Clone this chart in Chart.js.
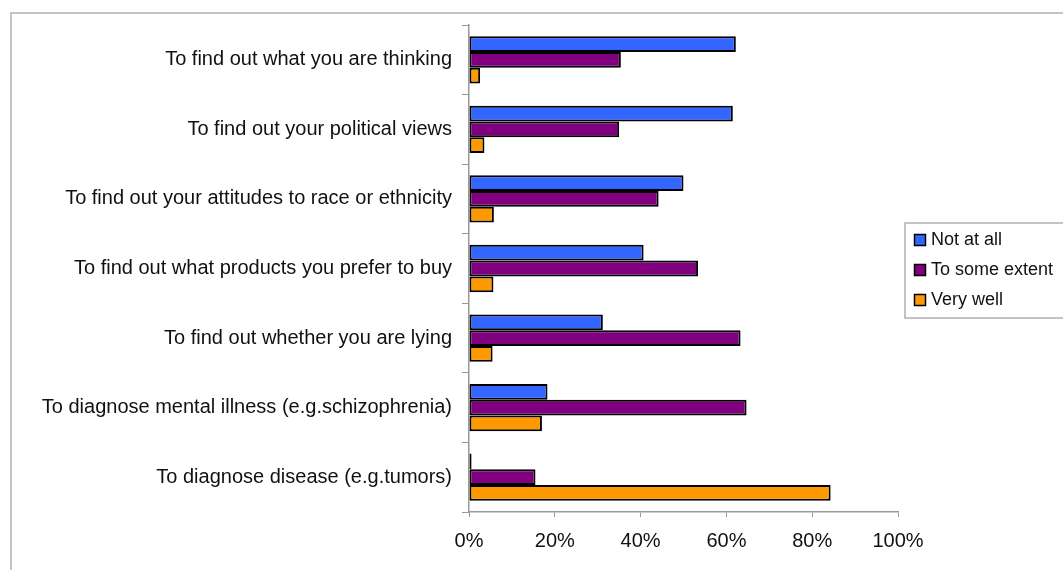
<!DOCTYPE html>
<html>
<head>
<meta charset="utf-8">
<script src="https://cdn.jsdelivr.net/npm/chart.js@4"></script>
<style>
  html, body { margin: 0; padding: 0; background: #fff; overflow: hidden; }
  #wrap { position: relative; width: 1063px; height: 570px; }
  #frame { position: absolute; left: 10px; top: 12px; width: 1100px; height: 600px;
           border-left: 2px solid #c4c4c4; border-top: 2px solid #c4c4c4; pointer-events: none; }
  canvas { position: absolute; left: 0; top: 0; }
</style>
</head>
<body>
<div id="wrap">
  <canvas id="chart" width="1063" height="570"></canvas>
  <div id="frame"></div>
</div>
<script>
const categories = [
  'To find out what you are thinking',
  'To find out your political views',
  'To find out your attitudes to race or ethnicity',
  'To find out what products you prefer to buy',
  'To find out whether you are lying',
  'To diagnose mental illness (e.g.schizophrenia)',
  'To diagnose disease (e.g.tumors)'
];
const notAtAll = [62.2, 61.5, 50.0, 40.7, 31.2, 18.3, 0.6];
const toSomeExtent = [35.4, 35.0, 44.2, 53.4, 63.3, 64.7, 15.5];
const veryWell = [2.6, 3.6, 5.8, 5.7, 5.5, 17.0, 84.3];
const seriesNames = ['Not at all', 'To some extent', 'Very well'];
const seriesColors = ['#3366FF', '#800080', '#FF9900'];
const xTicks = [0, 20, 40, 60, 80, 100];

const font = "'Liberation Sans', Arial, sans-serif";

// legend box like the old office chart, drawn from the datasets
const boxLegend = {
  id: 'boxLegend',
  afterDraw(chart) {
    const ctx = chart.ctx;
    const x = 905, y = 223, w = 170, h = 95;
    ctx.save();
    ctx.strokeStyle = '#b0b0b0';
    ctx.lineWidth = 1.5;
    ctx.strokeRect(x, y, w, h);
    ctx.font = '18px ' + font;
    ctx.textBaseline = 'middle';
    chart.data.datasets.forEach((ds, i) => {
      const cy = 240 + i * 30;
      ctx.fillStyle = ds.backgroundColor;
      ctx.fillRect(914, cy - 6, 12, 12);
      ctx.strokeStyle = '#000';
      ctx.lineWidth = 1.5;
      ctx.strokeRect(914.5, cy - 5.5, 11, 11);
      ctx.fillStyle = '#111';
      ctx.fillText(ds.label, 931, cy);
    });
    ctx.restore();
  }
};

new Chart(document.getElementById('chart'), {
  type: 'bar',
  data: {
    labels: categories,
    datasets: [notAtAll, toSomeExtent, veryWell].map((d, i) => ({
      label: seriesNames[i],
      data: d,
      backgroundColor: seriesColors[i],
      borderColor: '#000',
      borderWidth: 2,
      borderSkipped: false,
      barPercentage: 1,
      categoryPercentage: 0.68
    }))
  },
  options: {
    indexAxis: 'y',
    responsive: false,
    animation: false,
    layout: { padding: { left: 0, top: 25, right: 165, bottom: 0 } },
    plugins: { legend: { display: false }, tooltip: { enabled: false } },
    scales: {
      x: {
        min: 0,
        max: 100,
        afterBuildTicks: (s) => { s.ticks = xTicks.map((v) => ({ value: v })); },
        afterFit: (s) => { s.height = 58; },
        border: { color: '#999', width: 1.5 },
        grid: { drawOnChartArea: false, color: '#999', tickLength: 5 },
        ticks: { callback: (v) => v + '%', color: '#111', font: { family: font, size: 20 }, padding: 12 }
      },
      y: {
        afterFit: (s) => { s.width = 469; },
        border: { color: '#999', width: 1.5 },
        grid: { drawOnChartArea: false, color: '#999', tickLength: 7, offset: true },
        ticks: { color: '#111', font: { family: font, size: 20 }, padding: 10 }
      }
    }
  },
  plugins: [boxLegend]
});
</script>
</body>
</html>
